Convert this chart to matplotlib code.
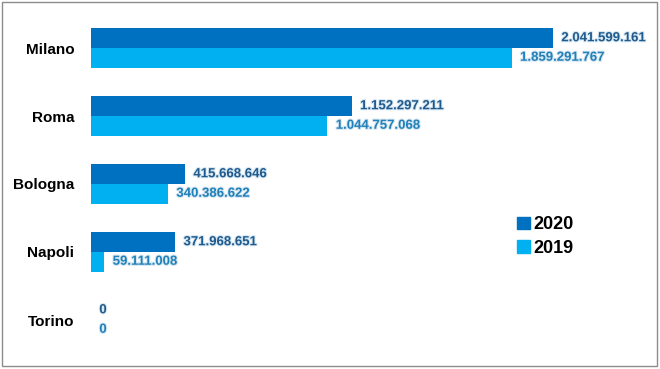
import numpy as np
import matplotlib
matplotlib.use("Agg")
import matplotlib.pyplot as plt
from matplotlib.patches import Rectangle, Patch
import matplotlib.patheffects as pe

# dati
citta = ["Milano", "Roma", "Bologna", "Napoli", "Torino"]
valori_2020 = [2041599161, 1152297211, 415668646, 371968651, 0]
valori_2019 = [1859291767, 1044757068, 340386622, 59111008, 0]
anni = ["2020", "2019"]

col_2020 = "#0070C0"
col_2019 = "#00B0F0"
txt_2020 = "#1F5A8C"
txt_2019 = "#2080B8"


def fmt(v):
    return f"{v:,}".replace(",", ".")


plt.rcParams['font.family'] = ['Liberation Sans', 'DejaVu Sans']

fig = plt.figure(figsize=(6.6, 3.69), dpi=100)
W, H = 660, 369
ax = fig.add_axes([91 / W, 1 - 354 / H, (640 - 91) / W, (354 - 14) / H])

y = np.arange(len(citta))
h = 0.287
ax.barh(y - h / 2, valori_2020, height=h, color=col_2020)
ax.barh(y + h / 2, valori_2019, height=h, color=col_2019)

glow = [pe.withStroke(linewidth=1.5, foreground="#D6E6F2")]
for i in range(len(citta)):
    ax.annotate(fmt(valori_2020[i]), (valori_2020[i], y[i] - h / 2), xytext=(6, 0),
                textcoords="offset points", va="center", ha="left", fontsize=9.5,
                fontweight="bold", color=txt_2020, path_effects=glow)
    ax.annotate(fmt(valori_2019[i]), (valori_2019[i], y[i] + h / 2), xytext=(6, 0),
                textcoords="offset points", va="center", ha="left", fontsize=9.5,
                fontweight="bold", color=txt_2019, path_effects=glow)

ax.set_xlim(0, 549 / 226.3e-9)
ax.set_ylim(len(citta) - 0.5, -0.5)
ax.set_yticks(y)
ax.set_yticklabels(citta, fontsize=11, fontweight="bold")
ax.tick_params(axis="y", length=0, pad=12)
ax.set_xticks([])
for s in ax.spines.values():
    s.set_visible(False)

handles = [Patch(color=col_2020), Patch(color=col_2019)]
fig.legend(handles, anni, loc="upper left", bbox_to_anchor=(501 / W, 1 - 200 / H),
           frameon=False, handlelength=0.7, handleheight=0.7, handletextpad=0.2,
           labelspacing=0.35, prop={"size": 13, "weight": "bold"})

# bordo del grafico
fig.patches.append(Rectangle((2 / W, 3 / H), 655 / W, 364 / H, transform=fig.transFigure,
                             fill=False, edgecolor="#8C8C8C", linewidth=1))

fig.savefig("out.png", dpi=100)
